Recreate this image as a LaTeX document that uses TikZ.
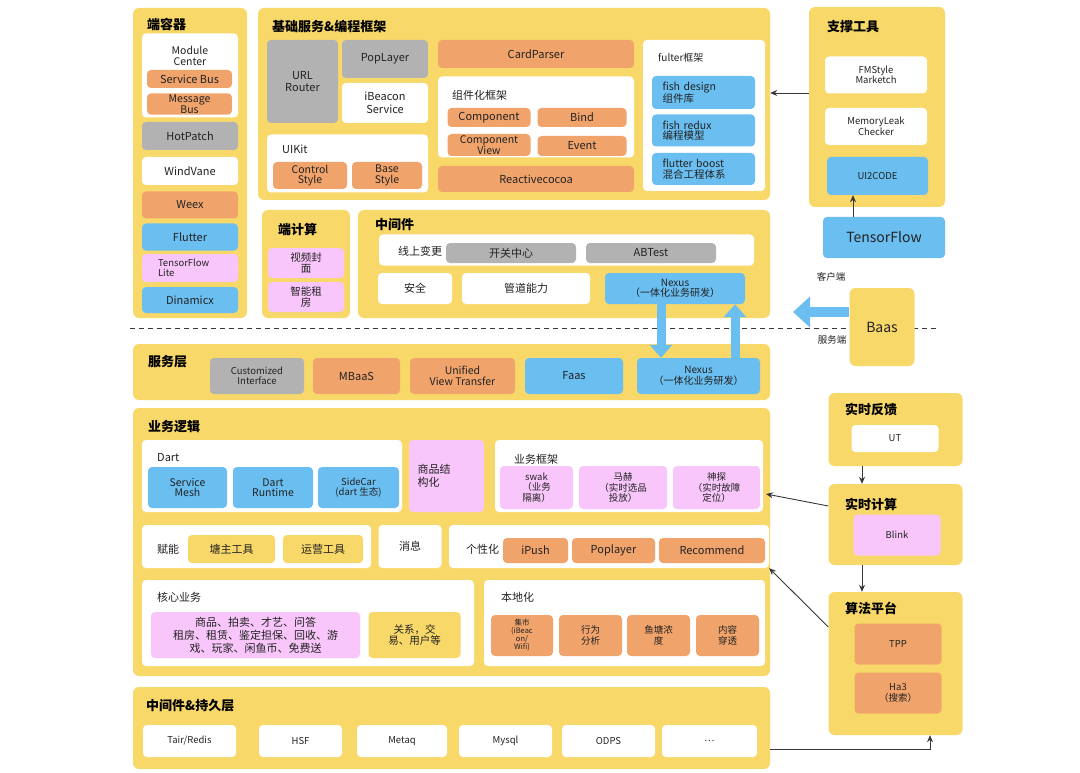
\documentclass[tikz,border=0pt]{standalone}
\usepackage{fontspec}
\setmainfont{Noto Sans CJK SC}
\usepackage{tikz}
\usetikzlibrary{arrows.meta}
\definecolor{archYellow}{RGB}{249,216,106}
\definecolor{archOrange}{RGB}{240,164,108}
\definecolor{archGray}{RGB}{178,178,178}
\definecolor{archBlue}{RGB}{106,190,240}
\definecolor{archPink}{RGB}{248,198,250}
\definecolor{archInk}{RGB}{34,34,34}
\definecolor{archLine}{RGB}{55,55,55}

\begin{document}
\begin{tikzpicture}[x=1pt,y=-1pt,
  every node/.style={text=archInk, font=\fontsize{11}{12.5}\selectfont},
  box/.style={rounded corners=4pt, align=center, inner sep=1pt},
  sz/.style 2 args={minimum width=#1, minimum height=#2},
  panel/.style={box, fill=archYellow, rounded corners=6pt},
  wbox/.style={box, fill=white},
  obox/.style={box, fill=archOrange},
  gbox/.style={box, fill=archGray},
  bbox/.style={box, fill=archBlue},
  pbox/.style={box, fill=archPink},
  ybox/.style={box, fill=archYellow},
  ttl/.style={anchor=west, inner sep=0pt, text=black, font=\fontsize{13}{15}\selectfont\bfseries},
  lbl/.style={anchor=west, inner sep=0pt},
  sm/.style={font=\fontsize{9.5}{10.5}\selectfont},
  snug/.style={font=\fontsize{10.5}{10.5}\selectfont},
  arr/.style={draw=archLine, line width=0.9pt, -{Stealth[length=7pt,width=6pt]}},
  fat/.style={draw=archBlue, line width=9pt, -{Triangle[length=13pt,width=22pt]}}]
\useasboundingbox (0,0) rectangle (1080,773);

% yellow panels
\node[panel, sz={114}{310}] (endc) at (190,163) {};
\node[panel, sz={512}{192}] (basec) at (514,104) {};
\node[panel, sz={136}{200}] (tools) at (877,107) {};
\node[panel, sz={88}{108}] (edgec) at (306,264) {};
\node[panel, sz={412}{108}] (midw) at (564,264) {};
\node[panel, sz={637}{56}] (svcl) at (451.5,372) {};
\node[panel, sz={637}{268}] (bizl) at (451.5,542) {};
\node[panel, sz={637}{82}] (storel) at (451.5,728) {};
\node[panel, sz={134}{73}] (fb) at (895.5,429.5) {};
\node[panel, sz={134}{81}] (rtc) at (895.5,524.5) {};
\node[panel, sz={134}{143}] (algo) at (895.5,663.5) {};

\node[ttl] (endT) at (147,24) {端容器};
\node[ttl] (baseT) at (272,27) {基础服务\&编程框架};
\node[ttl] (toolsT) at (827,27) {支撑工具};
\node[ttl] (edgeT) at (278,230) {端计算};
\node[ttl] (midT) at (375,225) {中间件};
\node[ttl] (svcT) at (148,362) {服务层};
\node[ttl] (bizT) at (148,427) {业务逻辑};
\node[ttl] (storeT) at (146,706) {中间件\&持久层};
\node[ttl] (fbT) at (845,410) {实时反馈};
\node[ttl] (rtT) at (845,504) {实时计算};
\node[ttl] (algoT) at (845,608) {算法平台};

% 端容器
\node[wbox, sz={96}{84}] (modc) at (190,75.5) {};
\node[box, snug] (modcT) at (190,56) {Module\\Center};
\node[obox, sz={85}{18}] (svcbus) at (189.5,79) {Service Bus};
\node[obox, sz={85}{19}, font=\fontsize{10.5}{9}\selectfont] (msgbus) at (189.5,104) {Message\\Bus};
\node[gbox, sz={96}{28}] (hotpatch) at (190,136) {HotPatch};
\node[wbox, sz={96}{28}] (windvane) at (190,171) {WindVane};
\node[obox, sz={96}{27}] (weex) at (190,205) {Weex};
\node[bbox, sz={96}{27}] (flutter) at (190,237) {Flutter};
\node[pbox, sz={96}{28}, sm, align=left, text width=64] (tflite) at (190,268) {TensorFlow\\Lite};
\node[bbox, sz={96}{26}] (dinamicx) at (190,300) {Dinamicx};

% 基础服务&编程框架
\node[gbox, sz={71}{83}] (router) at (302.5,81.5) {URL\\Router};
\node[gbox, sz={86}{38}] (poplayer) at (385,59) {PopLayer};
\node[wbox, sz={86}{40}] (ibeacon) at (385,103) {iBeacon\\Service};
\node[wbox, sz={161}{58}] (uikit) at (347.5,163.5) {};
\node[lbl] (uikitT) at (282,149) {UIKit};
\node[obox, sz={74}{27}, snug] (ctrlstyle) at (310,175.5) {Control\\Style};
\node[obox, sz={70}{27}, snug] (basestyle) at (387,175.5) {Base\\Style};
\node[obox, sz={196}{28}] (cardparser) at (536,54) {CardParser};
\node[wbox, sz={196}{81}] (compfw) at (536,117) {};
\node[lbl] (compfwT) at (452,95) {组件化框架};
\node[obox, sz={83}{19}] (component) at (489,117.5) {Component};
\node[obox, sz={89}{19}] (bind) at (582,117.5) {Bind};
\node[obox, sz={83}{22}, snug] (compview) at (489,145) {Component\\View};
\node[obox, sz={89}{20}] (event) at (582,146) {Event};
\node[obox, sz={196}{26}] (reactive) at (536,179) {Reactivecocoa};
\node[wbox, sz={122}{151}] (flutterfw) at (704,115.5) {};
\node[lbl, font=\fontsize{10}{11}\selectfont] (flutterfwT) at (658,58) {fulter框架};
\node[bbox, sz={103}{33}, snug, align=left, text width=82] (fishdesign) at (703.5,92.5) {fish design\\组件库};
\node[bbox, sz={103}{32}, snug, align=left, text width=82] (fishredux) at (703.5,130.5) {fish redux\\编程模型};
\node[bbox, sz={103}{32}, snug, align=left, text width=82] (flutterboost) at (703.5,169) {flutter boost\\混合工程体系};

% 支撑工具
\node[wbox, sz={102}{37}, sm] (fmstyle) at (876,75) {FMStyle\\Marketch};
\node[wbox, sz={102}{37}, sm] (memleak) at (876,126.5) {MemoryLeak\\Checker};
\node[bbox, sz={101}{38}, sm] (ui2code) at (877.5,176) {UI2CODE};
\node[bbox, sz={122}{41}, font=\fontsize{14}{16}\selectfont] (tensorflow) at (884,237.5) {TensorFlow};
\node[sm] (clientT) at (831,277) {客户端};
\node[sm] (serverT) at (832,340) {服务端};

% 端计算 / 中间件
\node[pbox, sz={76}{30}, snug] (cover) at (306,263) {视频封\\面};
\node[pbox, sz={76}{30}, snug] (rent) at (306,297) {智能租\\房};
\node[wbox, sz={375}{31}] (online) at (566.5,250) {};
\node (onlineT) at (420,251) {线上变更};
\node[gbox, sz={130}{20}] (switch) at (511,253) {开关中心};
\node[gbox, sz={130}{20}] (abtest) at (651,253) {ABTest};
\node[wbox, sz={74}{31}] (security) at (415,288.5) {安全};
\node[wbox, sz={128}{31}] (pipeline) at (526,288.5) {管道能力};
\node[bbox, sz={140}{31}, font=\fontsize{10}{10.5}\selectfont] (nexusA) at (675,288.5) {Nexus\\（一体化业务研发）};

% 服务层
\node[gbox, sz={94}{36}, sm] (custom) at (257,376) {Customized\\Interface};
\node[obox, sz={87}{36}] (mbaas) at (356.5,376) {MBaaS};
\node[obox, sz={105}{36}, snug] (unified) at (462.5,376) {Unified\\View Transfer};
\node[bbox, sz={98}{36}] (faas) at (574,376) {Faas};
\node[bbox, sz={123}{36}, font=\fontsize{10}{10.5}\selectfont] (nexusB) at (698.5,376) {Nexus\\（一体化业务研发）};

% 业务逻辑
\node[wbox, sz={260}{72}] (dart) at (272,476) {};
\node[lbl] (dartT) at (157,458) {Dart};
\node[bbox, sz={79}{41}, snug] (smesh) at (187.5,487.5) {Service\\Mesh};
\node[bbox, sz={80}{41}, snug] (druntime) at (273,487.5) {Dart\\Runtime};
\node[bbox, sz={81}{41}, sm] (sidecar) at (358.5,487.5) {SideCar\\(dart 生态)};
\node[pbox, sz={75}{72}, align=left, text width=58] (goods) at (446.5,476) {商品结\\构化};
\node[wbox, sz={268}{72}] (bizfw) at (629,476) {};
\node[lbl] (bizfwT) at (514,459) {业务框架};
\node[pbox, sz={73}{43}, sm] (swak) at (536.5,487.5) {swak\\（业务\\隔离）};
\node[pbox, sz={88}{43}, sm] (mach) at (623,487.5) {马赫\\（实时选品\\投放）};
\node[pbox, sz={87}{43}, sm] (sherlock) at (716.5,487.5) {神探\\（实时故障\\定位）};

\node[wbox, sz={229}{43}] (enable) at (256.5,546.5) {};
\node[lbl] (enableT) at (157,549) {赋能};
\node[ybox, sz={87}{28}] (pondtool) at (231.5,549) {塘主工具};
\node[ybox, sz={80}{28}] (opstool) at (323,549) {运营工具};
\node[wbox, sz={63}{43}] (message) at (410,546.5) {消息};
\node[wbox, sz={320}{43}] (persona) at (609,546.5) {};
\node[lbl] (personaT) at (466,549) {个性化};
\node[obox, sz={65}{25}] (ipush) at (535.5,550.5) {iPush};
\node[obox, sz={83}{25}] (poplayerB) at (613.5,550.5) {Poplayer};
\node[obox, sz={106}{25}] (recommend) at (712,550.5) {Recommend};

\node[wbox, sz={332}{86}] (core) at (308,623) {};
\node[lbl] (coreT) at (157,597) {核心业务};
\node[pbox, sz={209}{46}, font=\fontsize{11}{13}\selectfont] (goodslist) at (255.5,635) {商品、拍卖、才艺、问答\\租房、租赁、鉴定担保、回收、游\\戏、玩家、闲鱼币、免费送};
\node[ybox, sz={92}{46}, snug] (relation) at (414.5,635) {关系，交\\易、用户等};
\node[wbox, sz={281}{86}] (localz) at (624.5,623) {};
\node[lbl] (localT) at (501,597) {本地化};
\node[obox, sz={62}{41}, font=\fontsize{7.5}{8}\selectfont] (market) at (522,635.5) {集市\\(iBeac\\on/\\Wifi)};
\node[obox, sz={63}{41}, sm] (behavior) at (590.5,635.5) {行为\\分析};
\node[obox, sz={63}{41}, sm] (fishpond) at (658.5,635.5) {鱼塘浓\\度};
\node[obox, sz={63}{41}, sm] (content) at (727.5,635.5) {内容\\穿透};

% 中间件&持久层
\foreach \nm/\cx/\w/\t in {tair/189.5/93/{Tair/Redis}, hsf/300.5/83/HSF, metaq/402/90/Metaq,
    mysql/505.5/93/Mysql, odps/608.5/93/ODPS, more/709.5/95/\ldots}
  \node[wbox, sz={\w}{32}, sm] (\nm) at (\cx,741) {\t};

% 实时反馈 / 实时计算 / 算法平台
\node[wbox, sz={87}{27}, sm] (ut) at (895,438.5) {UT};
\node[pbox, sz={87}{41}, sm] (blink) at (897,535) {Blink};
\node[obox, sz={87}{41}, sm] (tpp) at (898,644) {TPP};
\node[obox, sz={87}{41}, sm] (ha3) at (898,693) {Ha3\\（搜索）};

% client / server split
\coordinate (dashL) at (130,328);
\coordinate (dashR) at (938,328);
\draw[archLine, line width=1pt, dash pattern=on 5pt off 4pt] (dashL) -- (dashR);
\node[panel, sz={65}{78}, font=\fontsize{14}{16}\selectfont] (baas) at (882,327) {Baas};
\coordinate (baasTip) at (793,312);
\draw[fat, line width=10pt, -{Triangle[length=17pt,width=30pt]}] (baas.west |- baasTip) -- (baasTip);

\coordinate (nxL) at (661,0);
\coordinate (nxR) at (735,0);
\draw[fat] (nexusA.south -| nxL) -- (nexusB.north -| nxL);
\draw[fat] (nexusB.north -| nxR) -- (nexusA.south -| nxR);

% connectors
\coordinate (toolY) at (0,93);
\draw[arr] (tools.west |- toolY) -- (basec.east |- toolY);
\coordinate (tfX) at (853,0);
\draw[arr] (tensorflow.north -| tfX) -- (ui2code.south -| tfX);
\coordinate (fbX) at (862,0);
\draw[arr] (fb.south -| fbX) -- (rtc.north -| fbX);
\draw[arr] (rtc.south -| fbX) -- (algo.north -| fbX);
\coordinate (rtcY) at (0,506);
\coordinate (bizTip) at (766,494);
\draw[arr] (rtc.west |- rtcY) -- (bizTip);
\coordinate (algoY) at (0,627);
\draw[arr] (algo.west |- algoY) -- (persona.south east);
\coordinate (storeTurn) at (930,749);
\draw[arr] (storel.east |- storeTurn) -- (storeTurn) -- (algo.south -| storeTurn);
\end{tikzpicture}
\end{document}
